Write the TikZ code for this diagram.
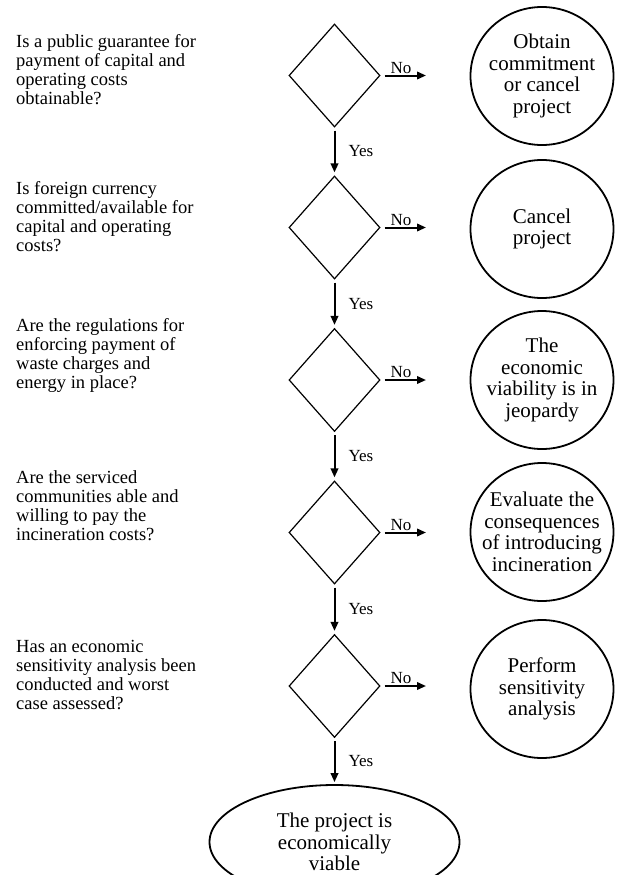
\documentclass[tikz,border=0pt]{standalone}
\usepackage{fontspec}
\setmainfont{Liberation Serif}
\usetikzlibrary{arrows.meta,shapes.geometric}

\begin{document}
\begin{tikzpicture}[x=1pt,y=-1pt,
  question/.style={anchor=west,align=left,inner sep=0pt,font=\fontsize{18.5}{19}\selectfont},
  decision/.style={diamond,draw,line width=1.2pt,minimum width=91pt,minimum height=103pt,inner sep=0pt},
  outcome/.style={ellipse,draw,line width=1.8pt,minimum width=143pt,minimum height=138pt,inner sep=-12pt,align=center,font=\fontsize{21}{21.5}\selectfont},
  flow/.style={line width=2pt,-{Triangle[length=9pt,width=7.5pt]}},
  lbl/.style={font=\fontsize{17}{20}\selectfont,inner sep=1pt}]
  \useasboundingbox (0,0) rectangle (617,875);
  \clip (0,0) rectangle (617,875);

  \node[question] (q1) at (16,70)  {Is a public guarantee for\\payment of capital and\\operating costs\\obtainable?};
  \node[question] (q2) at (16,217) {Is foreign currency\\committed/available for\\capital and operating\\costs?};
  \node[question] (q3) at (16,355) {Are the regulations for\\enforcing payment of\\waste charges and\\energy in place?};
  \node[question] (q4) at (16,506) {Are the serviced\\communities able and\\willing to pay the\\incineration costs?};
  \node[question] (q5) at (16,675) {Has an economic\\sensitivity analysis been\\conducted and worst\\case assessed?};

  \node[decision] (d1) at (334.5,75.5) {};
  \node[decision] (d2) at (334.5,227.5) {};
  \node[decision] (d3) at (334.5,380) {};
  \node[decision] (d4) at (334.5,532.5) {};
  \node[decision] (d5) at (334.5,686) {};

  \node[outcome] (o1) at (542,76)  {Obtain\\commitment\\or cancel\\project};
  \node[outcome] (o2) at (542,229) {Cancel\\project};
  \node[outcome] (o3) at (542,380) {The\\economic\\viability is in\\jeopardy};
  \node[outcome] (o4) at (542,532) {Evaluate the\\consequences\\of introducing\\incineration};
  \node[outcome] (o5) at (542,689) {Perform\\sensitivity\\analysis};
  \node[outcome,minimum width=250pt,minimum height=114pt] (viable) at (334.5,842) {The project is\\economically\\viable};

  \coordinate (n1) at (426,75.5);
  \coordinate (n2) at (426,227.5);
  \coordinate (n3) at (426,380);
  \coordinate (n4) at (426,532.5);
  \coordinate (n5) at (426,686);

  \draw[flow,shorten <=4pt] (d1) -- node[lbl,above,pos=0.45]{No} (n1);
  \draw[flow,shorten <=4pt] (d2) -- node[lbl,above,pos=0.45]{No} (n2);
  \draw[flow,shorten <=4pt] (d3) -- node[lbl,above,pos=0.45]{No} (n3);
  \draw[flow,shorten <=4pt] (d4) -- node[lbl,above,pos=0.45]{No} (n4);
  \draw[flow,shorten <=4pt] (d5) -- node[lbl,above,pos=0.45]{No} (n5);

  \draw[flow,shorten <=3pt,shorten >=3pt] (d1) -- node[lbl,right=12pt]{Yes} (d2);
  \draw[flow,shorten <=3pt,shorten >=3pt] (d2) -- node[lbl,right=12pt]{Yes} (d3);
  \draw[flow,shorten <=3pt,shorten >=3pt] (d3) -- node[lbl,right=12pt]{Yes} (d4);
  \draw[flow,shorten <=3pt,shorten >=3pt] (d4) -- node[lbl,right=12pt]{Yes} (d5);
  \draw[flow,shorten <=3pt,shorten >=2pt] (d5) -- node[lbl,right=12pt]{Yes} (viable);
\end{tikzpicture}
\end{document}
